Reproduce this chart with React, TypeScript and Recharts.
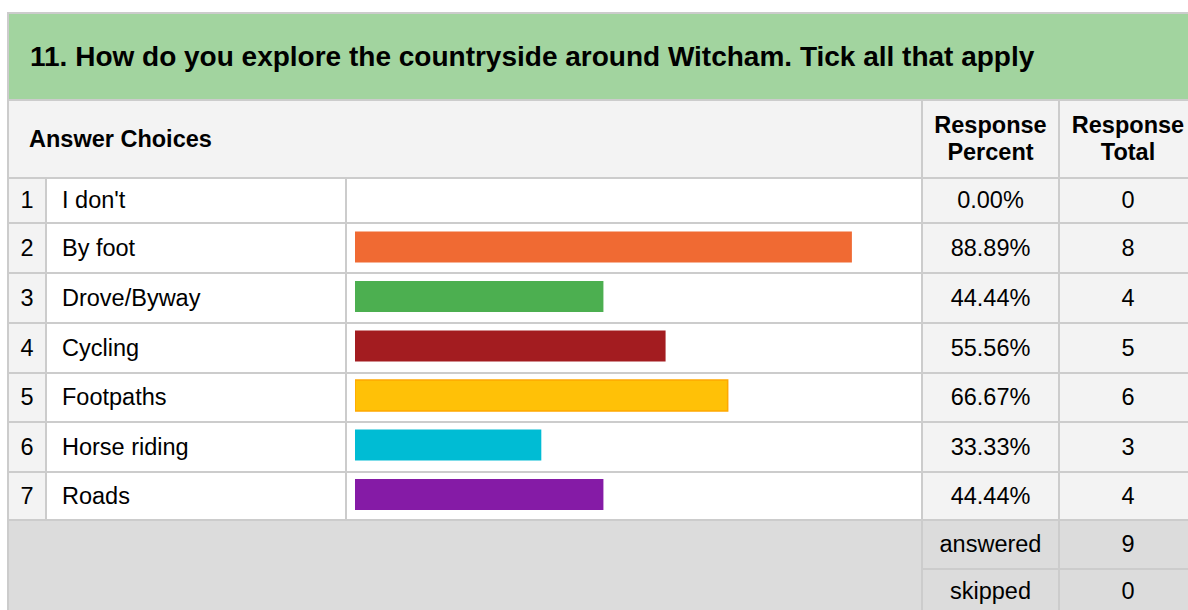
import { BarChart, Bar, XAxis, YAxis, Cell } from 'recharts';

const title = '11. How do you explore the countryside around Witcham. Tick all that apply';
const choices = ["I don't", 'By foot', 'Drove/Byway', 'Cycling', 'Footpaths', 'Horse riding', 'Roads'];
const percents = [0, 88.89, 44.44, 55.56, 66.67, 33.33, 44.44];
const totals = [0, 8, 4, 5, 6, 3, 4];
const barColors = ['#cccccc', '#f06a33', '#4caf50', '#a31c20', '#ffc107', '#00bcd4', '#851ba6'];
const barStrokes = ['none', 'none', 'none', 'none', '#ffa800', 'none', 'none'];
const answered = 9;
const skipped = 0;

const LINE = '#cccccc';
const FONT = '"Liberation Sans", Arial, sans-serif';

// column edges (cell spans between 2px grid lines)
const cols = [
  { x: 9, w: 36 },
  { x: 47, w: 298 },
  { x: 347, w: 574 },
  { x: 923, w: 135 },
  { x: 1060, w: 136 },
];
// row boundaries for the answer rows
const rowLines = [177, 222, 272, 322, 372, 421, 471, 519];

type BoxProps = {
  x: number; y: number; w: number; h: number; bg: string;
  children?: React.ReactNode; align?: 'left' | 'center'; pad?: number;
  bold?: boolean; size?: number;
};

function Box({ x, y, w, h, bg, children, align = 'center', pad = 0, bold, size = 23.5 }: BoxProps) {
  return (
    <div
      style={{
        position: 'absolute', left: x, top: y, width: w, height: h, background: bg,
        display: 'flex', alignItems: 'center',
        justifyContent: align === 'center' ? 'center' : 'flex-start',
        paddingLeft: pad, boxSizing: 'border-box', textAlign: align,
        fontWeight: bold ? 700 : 400, fontSize: size, color: '#000', lineHeight: '27px',
        whiteSpace: 'nowrap',
      }}
    >
      {children}
    </div>
  );
}

export default function App() {
  const data = choices.map((c, i) => ({ name: c, value: percents[i] }));
  const band = (rowLines[7] - rowLines[1]) / 6;
  const chartTop = rowLines[1] - band;

  return (
    <div style={{ position: 'absolute', left: 0, top: 0, width: 1188, height: 610, overflow: 'hidden', background: '#fff', fontFamily: FONT }}>
      {/* grid line background */}
      <div style={{ position: 'absolute', left: 7, top: 12, width: 1200, height: 620, background: LINE }} />

      {/* title */}
      <Box x={9} y={14} w={1200} h={85} bg="#a2d49f" align="left" pad={21} bold size={28}>{title}</Box>

      {/* header */}
      <Box x={9} y={101} w={912} h={76} bg="#f3f3f3" align="left" pad={20} bold>Answer Choices</Box>
      <Box x={cols[3].x} y={101} w={cols[3].w} h={76} bg="#f3f3f3" bold>Response<br />Percent</Box>
      <Box x={cols[4].x} y={101} w={cols[4].w} h={76} bg="#f3f3f3" bold>Response<br />Total</Box>

      {/* rows */}
      {choices.map((c, i) => {
        const y = rowLines[i] + 2;
        const h = rowLines[i + 1] - y;
        return (
          <div key={c}>
            <Box x={cols[0].x} y={y} w={cols[0].w} h={h} bg="#f3f3f3">{i + 1}</Box>
            <Box x={cols[1].x} y={y} w={cols[1].w} h={h} bg="#fff" align="left" pad={15}>{c}</Box>
            <Box x={cols[2].x} y={y} w={cols[2].w} h={h} bg="#fff" />
            <Box x={cols[3].x} y={y} w={cols[3].w} h={h} bg="#f3f3f3">{percents[i].toFixed(2)}%</Box>
            <Box x={cols[4].x} y={y} w={cols[4].w} h={h} bg="#f3f3f3">{totals[i]}</Box>
          </div>
        );
      })}

      {/* footer */}
      <Box x={9} y={521} w={912} h={100} bg="#dcdcdc" />
      <Box x={cols[3].x} y={521} w={cols[3].w} h={47} bg="#dcdcdc">answered</Box>
      <Box x={cols[4].x} y={521} w={cols[4].w} h={47} bg="#dcdcdc">{answered}</Box>
      <Box x={cols[3].x} y={570} w={cols[3].w} h={50} bg="#dcdcdc">
        <span style={{ marginTop: -8 }}>skipped</span>
      </Box>
      <Box x={cols[4].x} y={570} w={cols[4].w} h={50} bg="#dcdcdc">
        <span style={{ marginTop: -8 }}>{skipped}</span>
      </Box>

      {/* bars */}
      <div style={{ position: 'absolute', left: 355, top: chartTop }}>
        <BarChart
          width={559}
          height={band * 7}
          data={data}
          layout="vertical"
          margin={{ top: 0, right: 0, bottom: 0, left: 0 }}
          barCategoryGap={0}
        >
          <XAxis type="number" domain={[0, 100]} hide />
          <YAxis type="category" dataKey="name" hide />
          <Bar dataKey="value" barSize={31} isAnimationActive={false}>
            {data.map((d, i) => (
              <Cell key={d.name} fill={barColors[i]} stroke={barStrokes[i]} strokeWidth={barStrokes[i] === 'none' ? 0 : 1.5} />
            ))}
          </Bar>
        </BarChart>
      </div>
    </div>
  );
}
